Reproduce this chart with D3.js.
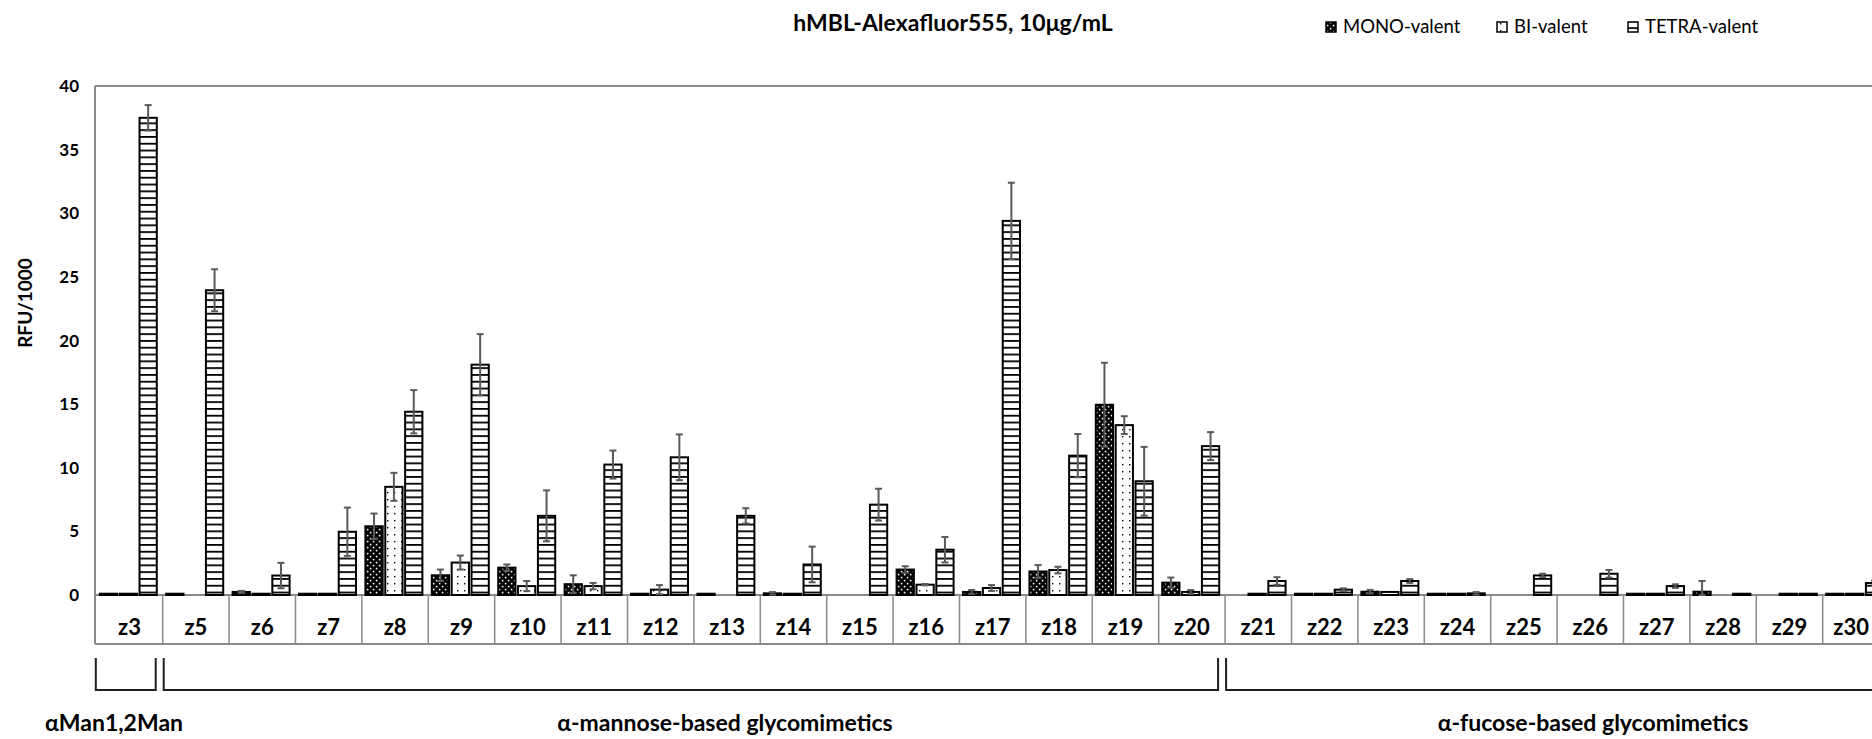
<!DOCTYPE html>
<html>
<head>
<meta charset="utf-8">
<script src="https://cdn.jsdelivr.net/npm/d3@7"></script>
<style>
  body { margin: 0; background: #fff; }
  svg { display: block; }
  text { font-family: Lato, "Liberation Sans", sans-serif; fill: #000; }
</style>
</head>
<body>
<svg id="chart" width="1872" height="739"></svg>
<script>
// Compounds on the x axis
const categories = ["z3", "z5", "z6", "z7", "z8", "z9", "z10", "z11", "z12", "z13", "z14", "z15", "z16",
  "z17", "z18", "z19", "z20", "z21", "z22", "z23", "z24", "z25", "z26", "z27", "z28", "z29", "z30"];

const seriesNames = ["MONO-valent", "BI-valent", "TETRA-valent"];

// Mean signal (RFU/1000); null = not measured
const monoValues  = [0.1, 0.1, 0.24, 0.1, 5.4, 1.55, 2.15, 0.85, 0.1, 0.1, 0.13, null, 2.0,
  0.24, 1.85, 14.95, 0.97, null, 0.1, 0.26, 0.1, null, null, 0.1, 0.26, null, 0.1];
const biValues    = [0.1, null, 0.1, 0.1, 8.5, 2.55, 0.7, 0.7, 0.42, null, 0.1, null, 0.81,
  0.55, 1.96, 13.35, 0.24, 0.1, 0.1, 0.24, 0.1, null, null, 0.1, null, 0.1, 0.1];
const tetraValues = [37.5, 23.95, 1.53, 4.97, 14.4, 18.1, 6.22, 10.25, 10.82, 6.22, 2.4, 7.1, 3.56,
  29.4, 10.95, 8.94, 11.7, 1.1, 0.42, 1.1, 0.13, 1.54, 1.67, 0.7, 0.1, 0.1, 0.94];

// Standard deviations
const monoErrors  = [0, 0, 0.08, 0, 1.0, 0.45, 0.25, 0.7, 0, 0, 0.1, null, 0.26,
  0.15, 0.5, 3.3, 0.4, null, 0, 0.14, 0, null, null, 0, 0.84, null, 0];
const biErrors    = [0, null, 0, 0, 1.1, 0.55, 0.4, 0.25, 0.36, null, 0, null, 0.05,
  0.23, 0.26, 0.7, 0.15, 0, 0, 0, 0, null, null, 0, null, 0, 0];
const tetraErrors = [1.0, 1.65, 1.0, 1.9, 1.7, 2.4, 2.0, 1.1, 1.8, 0.6, 1.4, 1.25, 1.0,
  3.0, 1.7, 2.7, 1.1, 0.3, 0.1, 0.15, 0.1, 0.13, 0.3, 0.14, 0, 0, 0.2];

const yTicks = [0, 5, 10, 15, 20, 25, 30, 35, 40];

// Compound families shown under the axis
const groupLabels = ["\u03b1Man1,2Man", "\u03b1-mannose-based glycomimetics", "\u03b1-fucose-based glycomimetics"];
const groupFirst  = ["z3", "z5", "z21"];
const groupLast   = ["z3", "z20", "z30"];
const groupLabelX = [114, 725, 1593];

const titleText = "hMBL-Alexafluor555, 10\u03bcg/mL";
const yLabel = "RFU/1000";

// ---------- layout ----------
const svg = d3.select("#chart");
const W = 1872;
const axisX = 95, plotTop = 86, baseY = 595, tableBottom = 644;
const step = 66.4, startX = 96.3;
const gridGrey = "#8a8a8a";

const x = d3.scaleBand().domain(categories).range([startX, startX + step * categories.length]).padding(0);
const xInner = d3.scaleBand().domain(seriesNames).range([3.5, 60.5]).paddingInner(0.13);
const y = d3.scaleLinear().domain([0, 40]).range([baseY, plotTop]);

// ---------- fill patterns ----------
const defs = svg.append("defs");
const pMono = defs.append("pattern").attr("id", "pat-mono").attr("patternUnits", "userSpaceOnUse")
  .attr("width", 6).attr("height", 6);
pMono.append("rect").attr("width", 6).attr("height", 6).attr("fill", "#000");
pMono.append("rect").attr("x", 0.8).attr("y", 0.8).attr("width", 1.6).attr("height", 1.6).attr("fill", "#fff");
pMono.append("rect").attr("x", 3.8).attr("y", 3.8).attr("width", 1.6).attr("height", 1.6).attr("fill", "#fff");

const pBi = defs.append("pattern").attr("id", "pat-bi").attr("patternUnits", "userSpaceOnUse")
  .attr("width", 7).attr("height", 7);
pBi.append("rect").attr("width", 7).attr("height", 7).attr("fill", "#fff");
pBi.append("rect").attr("x", 2).attr("y", 2).attr("width", 1.4).attr("height", 1.4).attr("fill", "#000");

const pTetra = defs.append("pattern").attr("id", "pat-tetra").attr("patternUnits", "userSpaceOnUse")
  .attr("width", 8).attr("height", 6.8);
pTetra.append("rect").attr("width", 8).attr("height", 6.8).attr("fill", "#fff");
pTetra.append("rect").attr("y", 0).attr("width", 8).attr("height", 1.8).attr("fill", "#000");

const fills = { "MONO-valent": "url(#pat-mono)", "BI-valent": "url(#pat-bi)", "TETRA-valent": "url(#pat-tetra)" };

// ---------- frame and category table ----------
svg.append("line").attr("x1", axisX).attr("x2", W).attr("y1", plotTop).attr("y2", plotTop)
  .attr("stroke", gridGrey).attr("stroke-width", 2);
svg.append("line").attr("x1", axisX).attr("x2", axisX).attr("y1", plotTop).attr("y2", tableBottom)
  .attr("stroke", gridGrey).attr("stroke-width", 2);
svg.append("line").attr("x1", axisX).attr("x2", W).attr("y1", baseY).attr("y2", baseY)
  .attr("stroke", gridGrey).attr("stroke-width", 2);
svg.append("line").attr("x1", axisX).attr("x2", W).attr("y1", tableBottom).attr("y2", tableBottom)
  .attr("stroke", gridGrey).attr("stroke-width", 2);
svg.append("g").selectAll("line").data(categories.slice(1)).join("line")
  .attr("x1", d => x(d)).attr("x2", d => x(d))
  .attr("y1", baseY).attr("y2", tableBottom)
  .attr("stroke", gridGrey).attr("stroke-width", 1.5);

// category names centred in their cells, kept inside the page at the right edge
svg.append("g").selectAll("text").data(categories).join("text")
  .attr("x", d => x(d) + x.bandwidth() / 2)
  .attr("y", 635)
  .attr("text-anchor", "middle")
  .attr("font-size", 22).attr("font-weight", 700)
  .text(d => d)
  .each(function () {
    const half = this.getComputedTextLength() / 2;
    const cxPos = +this.getAttribute("x");
    if (cxPos + half > W - 3) this.setAttribute("x", W - 3 - half);
  });

// ---------- y axis labels ----------
svg.append("g").selectAll("text").data(yTicks).join("text")
  .attr("x", 79).attr("y", d => y(d) + 6)
  .attr("text-anchor", "end")
  .attr("font-size", 17).attr("font-weight", 700)
  .text(d => d);

svg.append("text")
  .attr("transform", "translate(32,303) rotate(-90)")
  .attr("text-anchor", "middle")
  .attr("font-size", 19).attr("font-weight", 700)
  .text(yLabel);

// ---------- bars ----------
const series = [
  { name: "MONO-valent", values: monoValues, errors: monoErrors },
  { name: "BI-valent", values: biValues, errors: biErrors },
  { name: "TETRA-valent", values: tetraValues, errors: tetraErrors }
];

const flat = [];
series.forEach(s => categories.forEach((c, i) => {
  if (s.values[i] != null) flat.push({ cat: c, name: s.name, v: s.values[i], e: s.errors[i] || 0 });
}));

const plot = svg.append("g");
plot.selectAll("rect.bar").data(flat).join("rect")
  .attr("class", "bar")
  .attr("x", d => x(d.cat) + xInner(d.name))
  .attr("width", xInner.bandwidth())
  .attr("y", d => y(d.v))
  .attr("height", d => y(0) - y(d.v))
  .attr("fill", d => fills[d.name])
  .attr("stroke", "#000").attr("stroke-width", 2);

// error bars
const errData = flat.filter(d => d.e > 0);
const eg = plot.append("g").attr("stroke", "#5a5a5a").attr("stroke-width", 2);
const cx = d => x(d.cat) + xInner(d.name) + xInner.bandwidth() / 2;
eg.selectAll("line.v").data(errData).join("line")
  .attr("x1", cx).attr("x2", cx)
  .attr("y1", d => y(d.v + d.e)).attr("y2", d => y(Math.max(0, d.v - d.e)));
eg.selectAll("line.t").data(errData).join("line")
  .attr("x1", d => cx(d) - 3.5).attr("x2", d => cx(d) + 3.5)
  .attr("y1", d => y(d.v + d.e)).attr("y2", d => y(d.v + d.e));
eg.selectAll("line.b").data(errData).join("line")
  .attr("x1", d => cx(d) - 3.5).attr("x2", d => cx(d) + 3.5)
  .attr("y1", d => y(Math.max(0, d.v - d.e))).attr("y2", d => y(Math.max(0, d.v - d.e)));

// ---------- family brackets ----------
const bTop = 658, bBot = 690;
const bg = svg.append("g").attr("stroke", "#1e1e1e").attr("stroke-width", 2).attr("fill", "none");
groupFirst.forEach((f, i) => {
  const x0 = x(f) + (i === 0 ? -0.5 : 1);
  const x1 = Math.min(x(groupLast[i]) + x.bandwidth() - 7, W + 10);
  bg.append("path").attr("d", `M${x0},${bTop}V${bBot}H${x1}V${bTop}`);
});
svg.append("g").selectAll("text").data(groupLabels).join("text")
  .attr("x", (d, i) => groupLabelX[i]).attr("y", 731)
  .attr("text-anchor", "middle")
  .attr("font-size", 23).attr("font-weight", 700)
  .text(d => d);

// ---------- title ----------
svg.append("text").attr("x", 953).attr("y", 31)
  .attr("text-anchor", "middle").attr("font-size", 23).attr("font-weight", 700)
  .text(titleText);

// ---------- legend ----------
const legendX = [1326, 1497, 1628];
const lg = svg.append("g");
seriesNames.forEach((n, i) => {
  lg.append("rect").attr("x", legendX[i]).attr("y", 22).attr("width", 10).attr("height", 10)
    .attr("fill", fills[n]).attr("stroke", "#000").attr("stroke-width", 1.5);
  lg.append("text").attr("x", legendX[i] + 17).attr("y", 33)
    .attr("font-size", 18.5).text(n);
});
</script>
</body>
</html>
